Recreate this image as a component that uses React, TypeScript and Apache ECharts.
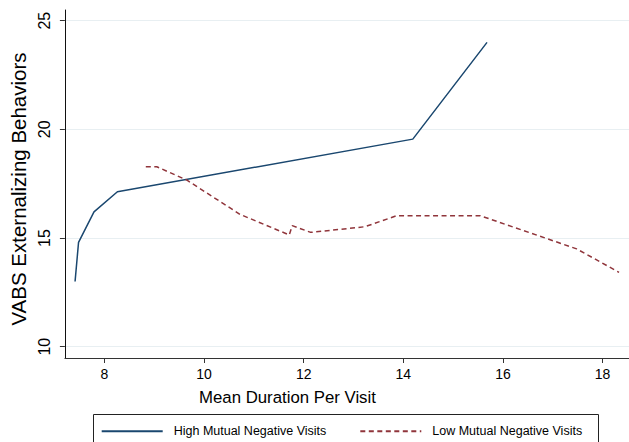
import React, { useEffect, useRef } from "react";
import * as echarts from "echarts";

const highName = "High Mutual Negative Visits";
const lowName = "Low Mutual Negative Visits";
const highX = [7.41, 7.48, 7.79, 8.26, 14.19, 15.68];
const highY = [13.0, 14.8, 16.2, 17.13, 19.55, 24.0];
const lowX = [8.83, 9.05, 9.65, 10.72, 11.71, 11.77, 12.14, 13.23, 13.87, 15.54, 17.48, 18.33];
const lowY = [18.28, 18.28, 17.67, 16.09, 15.14, 15.57, 15.26, 15.52, 16.03, 16.03, 14.5, 13.42];
const xTicks = [8, 10, 12, 14, 16, 18];
const yTicks = [10, 15, 20, 25];

const REG = '"Liberation Sans", Arial, Helvetica, sans-serif';

export default function App() {
  const ref = useRef<HTMLDivElement>(null);
  useEffect(() => {
    if (!ref.current) return;
    const chart = echarts.init(ref.current, null, { renderer: "svg" });
    const navy = "#1a476f";
    const maroon = "#90353b";
    const legendBase = {
      top: 424.7,
      padding: 0,
      itemWidth: 61,
      itemHeight: 14,
      itemStyle: { opacity: 0 },
      textStyle: { fontFamily: REG, fontSize: 12.5, color: "#000", padding: [0, 0, 0, 6] },
    };
    chart.setOption({
      animation: false,
      grid: { left: 64.7, right: 0, top: 10, bottom: 84, containLabel: false },
      xAxis: {
        type: "value",
        min: 7.206,
        max: 18.53,
        name: "Mean Duration Per Visit",
        nameLocation: "middle",
        nameGap: 31,
        nameTextStyle: { fontFamily: REG, fontSize: 16.8, color: "#000", padding: [0, 119, 0, 0] },
        axisLine: { lineStyle: { color: "#333", width: 1 } },
        axisTick: { show: true, length: 5, lineStyle: { color: "#333" }, customValues: xTicks },
        axisLabel: { customValues: xTicks, margin: 9, fontFamily: REG, fontSize: 14, color: "#000" },
        splitLine: { show: false },
      },
      yAxis: {
        type: "value",
        min: 9.48,
        max: 25.49,
        name: "VABS Externalizing Behaviors",
        nameLocation: "middle",
        nameGap: 29,
        nameTextStyle: { fontFamily: REG, fontSize: 20.5, color: "#000", padding: [0, 10, 0, 0] },
        axisLine: { show: true, lineStyle: { color: "#111", width: 1 } },
        axisTick: { show: true, length: 5, lineStyle: { color: "#333" }, customValues: yTicks },
        axisLabel: { customValues: yTicks, rotate: 90, margin: 12, fontFamily: REG, fontSize: 16, color: "#000" },
        splitLine: { show: true, lineStyle: { color: "#e8eff2", width: 1.2 } },
      },
      legend: [
        { ...legendBase, data: [highName], left: 100.7 },
        { ...legendBase, data: [lowName], left: 359.3 },
      ],
      graphic: [
        {
          type: "rect",
          shape: { x: 93.5, y: 414.5, width: 505, height: 40 },
          style: { fill: "none", stroke: "#222", lineWidth: 1 },
          silent: true,
        },
      ],
      series: [
        {
          name: highName,
          type: "line",
          symbol: "none",
          data: highX.map((x, i) => [x, highY[i]]),
          lineStyle: { color: navy, width: 1.5 },
          itemStyle: { color: navy },
        },
        {
          name: lowName,
          type: "line",
          symbol: "none",
          data: lowX.map((x, i) => [x, lowY[i]]),
          lineStyle: { color: maroon, width: 1.5, type: [5, 3.5] },
          itemStyle: { color: maroon },
        },
      ],
    });
    return () => chart.dispose();
  }, []);
  return <div ref={ref} style={{ width: 629, height: 442, position: "absolute", left: 0, top: 0 }} />;
}
